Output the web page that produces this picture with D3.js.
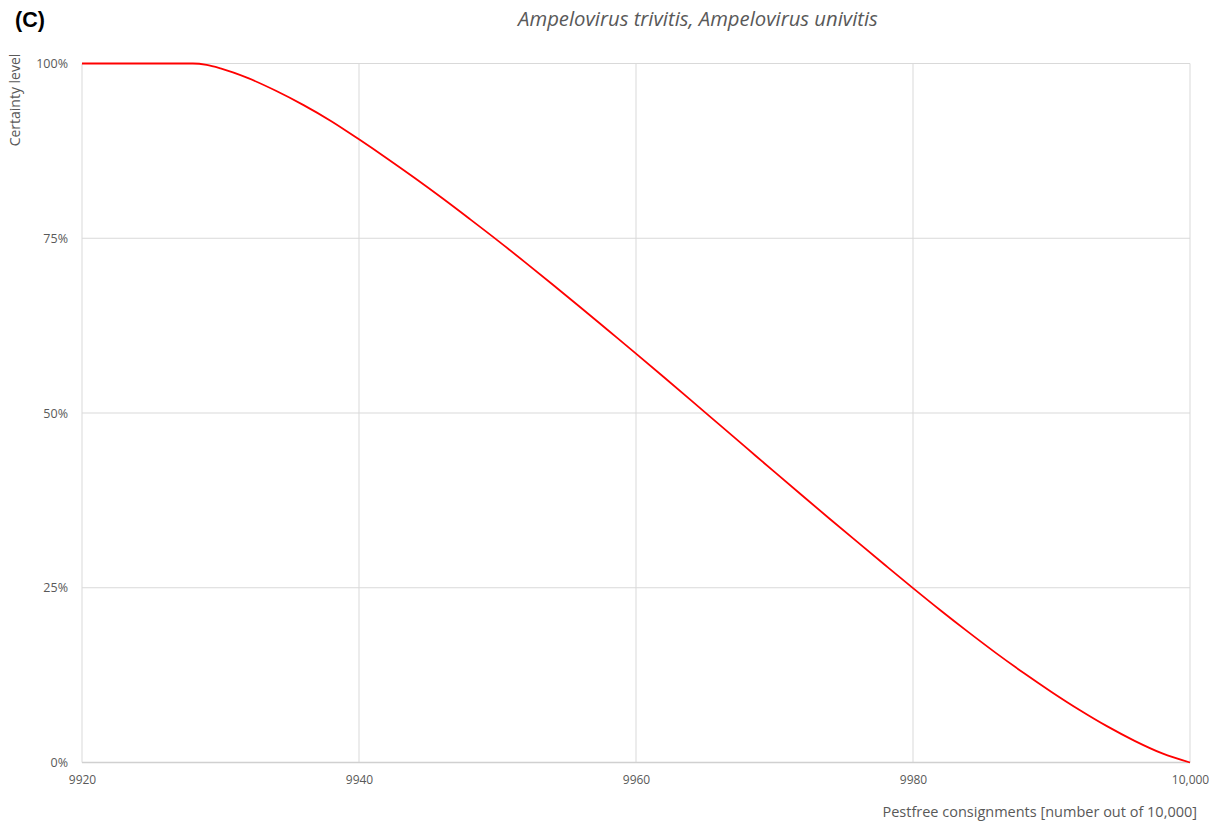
<!DOCTYPE html>
<html>
<head>
<meta charset="utf-8">
<script src="https://cdn.jsdelivr.net/npm/d3@7"></script>
<style>
  html, body { margin: 0; padding: 0; background: #fff; }
  svg { display: block; }
  text { font-family: "Open Sans", "Noto Sans", sans-serif; }
</style>
</head>
<body>
<svg id="chart" width="1220" height="823"></svg>
<script>
// ---- data ----
const consignments = [9920, 9922, 9924, 9926, 9928, 9929, 9930, 9932, 9934, 9936, 9938, 9940,
  9942, 9944, 9946, 9948, 9950, 9952, 9954, 9956, 9958, 9960, 9962, 9964, 9966, 9968, 9970,
  9972, 9974, 9976, 9978, 9980, 9982, 9984, 9986, 9988, 9990, 9992, 9994, 9996, 9998, 10000];
const certainty = [100, 100, 100, 100, 100, 99.8, 99.3, 97.9, 96.1, 94.05, 91.75, 89.15,
  86.45, 83.65, 80.75, 77.75, 74.7, 71.55, 68.35, 65.1, 61.8, 58.5, 55.15, 51.77, 48.37, 44.97, 41.57,
  38.19, 34.84, 31.52, 28.22, 24.95, 21.75, 18.65, 15.65, 12.8, 10.1, 7.55, 5.2, 3.1, 1.3, 0];
const xTicks = [9920, 9940, 9960, 9980, 10000];
const xTickLabels = ["9920", "9940", "9960", "9980", "10,000"];
const yTicks = [0, 25, 50, 75, 100];
const yTickLabels = ["0%", "25%", "50%", "75%", "100%"];
const title = "Ampelovirus trivitis, Ampelovirus univitis";
const panelLabel = "(C)";
const xTitle = "Pestfree consignments [number out of 10,000]";
const yTitle = "Certainty level";

// ---- layout ----
const svg = d3.select("#chart");
const pLeft = 82, pRight = 1190, pTop = 63.5, pBottom = 762.5;
const x = d3.scaleLinear().domain([9920, 10000]).range([pLeft, pRight]);
const y = d3.scaleLinear().domain([0, 100]).range([pBottom, pTop]);
const grid = "#d9d9d9", tickColor = "#595959";

// gridlines
svg.append("g").selectAll("line").data(yTicks).join("line")
  .attr("x1", pLeft).attr("x2", pRight)
  .attr("y1", d => y(d)).attr("y2", d => y(d))
  .attr("stroke", grid).attr("stroke-width", 1);
svg.append("g").selectAll("line").data(xTicks).join("line")
  .attr("x1", d => x(d)).attr("x2", d => x(d))
  .attr("y1", pTop).attr("y2", pBottom)
  .attr("stroke", grid).attr("stroke-width", 1);
svg.append("line").attr("x1", pLeft).attr("x2", pRight)
  .attr("y1", y(0)).attr("y2", y(0)).attr("stroke", "#d0d0d0").attr("stroke-width", 1.5);

// axes via d3
const xAxis = d3.axisBottom(x).tickValues(xTicks)
  .tickFormat((d, i) => xTickLabels[i]).tickSize(0).tickPadding(13);
const gx = svg.append("g").attr("transform", `translate(0,${pBottom})`).call(xAxis);
gx.select(".domain").remove();
gx.selectAll("text").attr("fill", tickColor).style("font-size", "12px")
  .style("font-family", "'Open Sans', sans-serif");

const yAxis = d3.axisLeft(y).tickValues(yTicks)
  .tickFormat((d, i) => yTickLabels[i]).tickSize(0).tickPadding(14);
const gy = svg.append("g").attr("transform", `translate(${pLeft},0)`).call(yAxis);
gy.select(".domain").remove();
gy.selectAll("text").attr("fill", tickColor).style("font-size", "12.5px")
  .style("font-family", "'Open Sans', sans-serif");

// curve
const pts = consignments.map((c, i) => [c, certainty[i]]);
svg.append("path").datum(pts)
  .attr("fill", "none").attr("stroke", "#ff0000").attr("stroke-width", 1.8)
  .attr("d", d3.line().x(d => x(d[0])).y(d => y(d[1])).curve(d3.curveMonotoneX));

// titles
svg.append("text").attr("x", 698).attr("y", 26).attr("text-anchor", "middle")
  .attr("fill", "#595959").style("font-size", "20.3px").style("font-style", "italic")
  .text(title);
svg.append("text").attr("x", 15).attr("y", 27)
  .attr("fill", "#000").style("font-size", "21.5px").style("font-weight", "bold")
  .style("font-family", "'Liberation Sans', Arial, sans-serif")
  .text(panelLabel);
svg.append("text").attr("transform", "translate(20,100) rotate(-90)")
  .attr("text-anchor", "middle").attr("fill", tickColor).style("font-size", "14px")
  .text(yTitle);
svg.append("text").attr("x", 1197).attr("y", 817).attr("text-anchor", "end")
  .attr("fill", tickColor).style("font-size", "14.5px")
  .text(xTitle);
</script>
</body>
</html>
